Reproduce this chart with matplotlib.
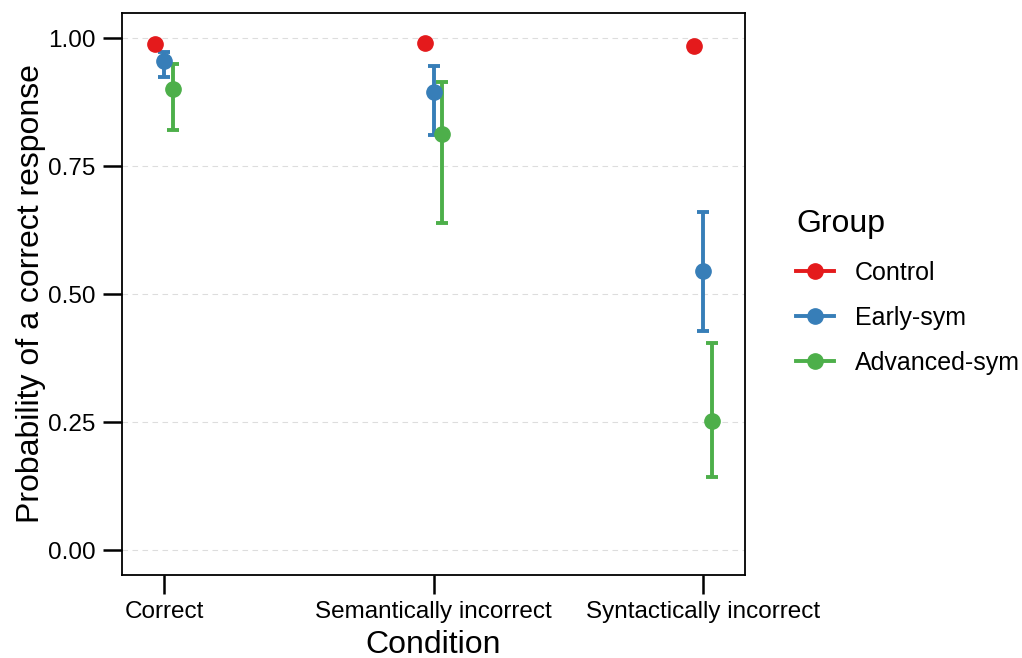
import numpy as np
import matplotlib.pyplot as plt
from matplotlib.lines import Line2D

conditions = ['Correct', 'Semantically incorrect', 'Syntactically incorrect']
groups = ['Control', 'Early-sym', 'Advanced-sym']
colors = ['#E41A1C', '#377EB8', '#4DAF4A']

# estimated probability and 95% interval per group, one value per condition
control_p = [0.988, 0.990, 0.984]
control_lo = [0.982, 0.983, 0.977]
control_hi = [0.993, 0.995, 0.990]

early_p = [0.955, 0.894, 0.546]
early_lo = [0.924, 0.810, 0.429]
early_hi = [0.973, 0.945, 0.661]

advanced_p = [0.900, 0.812, 0.252]
advanced_lo = [0.820, 0.640, 0.143]
advanced_hi = [0.950, 0.914, 0.405]

plt.rcParams['font.family'] = ['Liberation Sans', 'DejaVu Sans']

fig = plt.figure(figsize=(10.22, 6.58), dpi=100)
ax = fig.add_axes([0.1194, 0.1261, 0.6096, 0.8549])

x = np.arange(1, len(conditions) + 1)
offsets = [-0.033, 0.0, 0.033]
series = [(control_p, control_lo, control_hi),
          (early_p, early_lo, early_hi),
          (advanced_p, advanced_lo, advanced_hi)]

for (p, lo, hi), off, col, name in zip(series, offsets, colors, groups):
    p = np.array(p)
    err = np.vstack([p - np.array(lo), np.array(hi) - p])
    ax.errorbar(x + off, p, yerr=err, fmt='o', color=col, ecolor=col,
                markersize=11, elinewidth=2.8, capsize=4, capthick=2.8,
                label=name, zorder=3)

ax.set_xlim(0.844, 3.156)
ax.set_ylim(-0.048, 1.05)
ax.set_xticks(x)
ax.set_xticklabels(conditions, fontsize=17.5)
ax.set_yticks([0, 0.25, 0.5, 0.75, 1.0])
ax.set_yticklabels(['0.00', '0.25', '0.50', '0.75', '1.00'], fontsize=17.5)
ax.tick_params(length=14, width=1.8, color='black', pad=5)
ax.yaxis.grid(True, linestyle=(0, (5, 4)), color='#dddddd', linewidth=0.8)
ax.set_axisbelow(True)
for s in ax.spines.values():
    s.set_linewidth(1.3)

ax.set_xlabel('Condition', fontsize=23, labelpad=4.5)
ax.set_ylabel('Probability of a correct response', fontsize=23, labelpad=1.5)

handles = [Line2D([0], [0], color=c, marker='o', markersize=11, linewidth=2.8)
           for c in colors]
leg = fig.legend(handles, groups, loc='center left', bbox_to_anchor=(0.757, 0.556),
                 frameon=False, fontsize=18, title='Group', title_fontsize=23,
                 handlelength=1.5, labelspacing=0.85, handletextpad=0.85)
leg._legend_box.align = 'left'

fig.savefig('out.png', dpi=100)
